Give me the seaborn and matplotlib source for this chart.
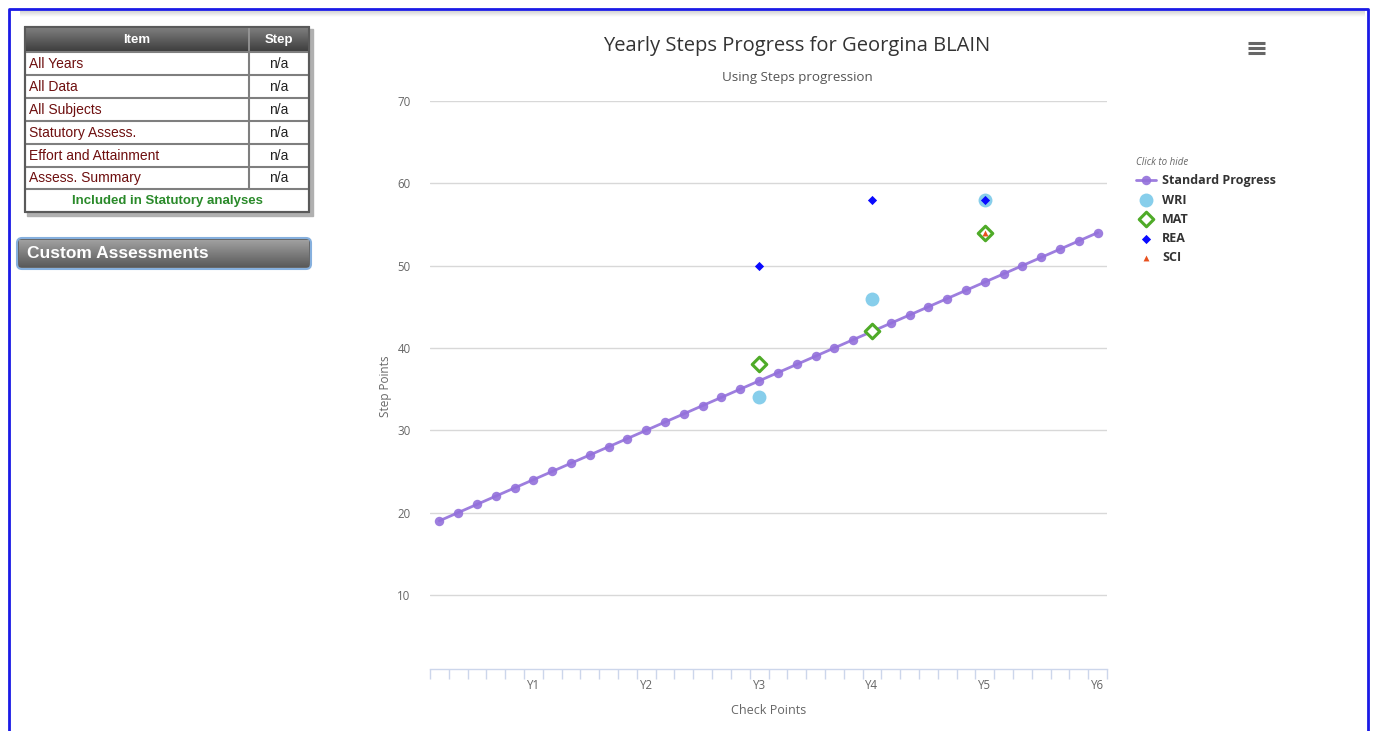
import matplotlib
matplotlib.use("Agg")
import matplotlib.pyplot as plt
from matplotlib.patches import Rectangle, FancyBboxPatch
import numpy as np
import pandas as pd
import seaborn as sns

# ── data ────────────────────────────────────────────────────────────────
checkpoints = list(range(1, 37))
standard = [19, 20, 21, 22, 23, 24, 25, 26, 27, 28, 29, 30,
            31, 32, 33, 34, 35, 36, 37, 38, 39, 40, 41, 42,
            43, 44, 45, 46, 47, 48, 49, 50, 51, 52, 53, 54]
year_labels = ["Y1", "Y2", "Y3", "Y4", "Y5", "Y6"]
year_pos = [6, 12, 18, 24, 30, 36]

wri_cp, wri_val = [18, 24, 30], [34, 46, 58]
mat_cp, mat_val = [18, 24, 30], [38, 42, 54]
rea_cp, rea_val = [18, 24, 30], [50, 58, 58]
sci_cp, sci_val = [30], [54]

y_ticks = [10, 20, 30, 40, 50, 60, 70]

table_items = ["All Years", "All Data", "All Subjects", "Statutory Assess.",
               "Effort and Attainment", "Assess. Summary"]
table_steps = ["n/a", "n/a", "n/a", "n/a", "n/a", "n/a"]

# ── figure ──────────────────────────────────────────────────────────────
W, H = 1373, 731
sns.set_theme(style="white")
plt.rcParams["font.family"] = ["Open Sans", "DejaVu Sans"]

fig = plt.figure(figsize=(W / 100, H / 100), dpi=100)
fig.patch.set_facecolor("white")

# page decorations in pixel coordinates
deco = fig.add_axes([0, 0, 1, 1], zorder=0)
deco.set_xlim(0, W)
deco.set_ylim(H, 0)
deco.axis("off")


def grad(ax, x0, y0, x1, y1, top, bottom, z=1):
    c0 = np.array(matplotlib.colors.to_rgb(top))
    c1 = np.array(matplotlib.colors.to_rgb(bottom))
    t = np.linspace(0, 1, 64)[:, None]
    img = (c0 * (1 - t) + c1 * t)[:, None, :]
    ax.imshow(img, extent=(x0, x1, y1, y0), aspect="auto", zorder=z,
              interpolation="bilinear")


# outer blue frame + top shadow
deco.plot([9, 9, 1368, 1368], [731, 9, 9, 731], color="#1a1ae6", lw=2, zorder=5)
grad(deco, 20, 11, 1365, 17, "#d4d4d4", "#ffffff", z=1)

# table
tx0, tx1, tsplit = 25, 309, 249
ty0, ty1 = 27, 212
row_h = 22.9
deco.add_patch(Rectangle((tx0 + 2, ty0 + 2), tx1 - tx0 + 2, ty1 - ty0 + 2,
                         color="#b0b0b0", zorder=1))
deco.add_patch(Rectangle((tx0, ty0), tx1 - tx0, ty1 - ty0, facecolor="white",
                         edgecolor="#5a5a5a", lw=1.5, zorder=2))
grad(deco, tx0, ty0, tx1, 52, "#808080", "#3c3c3c", z=3)
deco.plot([tsplit, tsplit], [ty0, 52], color="#9a9a9a", lw=1.2, zorder=4)
# cell grid
for i in range(7):
    y = 52 + i * row_h
    deco.plot([tx0, tx1], [y, y], color="#7f7f7f", lw=1.5, zorder=4)
deco.plot([tsplit, tsplit], [52, 52 + 6 * row_h], color="#7f7f7f", lw=1.5, zorder=4)
deco.plot([tx0, tx0, tx1, tx1, tx0], [ty0, ty1, ty1, ty0, ty0], color="#5a5a5a",
          lw=1.5, zorder=4)

deco.text((tx0 + tsplit) / 2, 40, "Item", color="white", fontsize=9.5,
          fontweight="bold", ha="center", va="center",
          family="Liberation Sans", zorder=5)
deco.text((tsplit + tx1) / 2, 40, "Step", color="white", fontsize=9.5,
          fontweight="bold", ha="center", va="center",
          family="Liberation Sans", zorder=5)
for i, (item, step) in enumerate(zip(table_items, table_steps)):
    yc = 52 + (i + 0.5) * row_h + 0.5
    deco.text(29, yc, item, color="#6e0f0f", fontsize=10,
              ha="left", va="center", family="Liberation Sans", zorder=5)
    deco.text((tsplit + tx1) / 2, yc, step, color="#222222",
              fontsize=10, ha="center", va="center", family="Liberation Sans",
              zorder=5)
deco.text((tx0 + tx1) / 2, 52 + 6.5 * row_h + 0.5, "Included in Statutory analyses",
          color="#2a8a2a", fontsize=9.5, fontweight="bold", ha="center",
          va="center", family="Liberation Sans", zorder=5)

# custom assessments button
deco.add_patch(FancyBboxPatch((17, 238), 294, 31, boxstyle="round,pad=0,rounding_size=5",
                              facecolor="#666666", edgecolor="#86b0de", lw=1.5,
                              zorder=2))
grad(deco, 19, 240, 309, 267, "#a0a0a0", "#5a5a5a", z=3)
deco.text(27, 254, "Custom Assessments", color="white", fontsize=12.5,
          fontweight="bold", ha="left", va="center", family="Liberation Sans",
          zorder=5)

# chart titles
deco.text(797, 46, "Yearly Steps Progress for Georgina BLAIN", fontsize=14.5,
          color="#333333", ha="center", va="center")
deco.text(797, 78, "Using Steps progression", fontsize=9.6, color="#555555",
          ha="center", va="center")
deco.text(385, 386, "Step Points", fontsize=8.5, color="#666666", rotation=90,
          ha="center", va="center")
deco.text(769, 710, "Check Points", fontsize=9, color="#666666",
          ha="center", va="center")

# hamburger menu
for yy in (43, 48, 53):
    deco.plot([1248, 1265], [yy, yy], color="#666666", lw=2.2, zorder=5,
              solid_capstyle="butt")

# ── chart ───────────────────────────────────────────────────────────────
ax_l, ax_r, ax_t, ax_b = 430, 1107, 101, 669
ax = fig.add_axes([ax_l / W, 1 - ax_b / H, (ax_r - ax_l) / W, (ax_b - ax_t) / H],
                  zorder=2)
ax.set_facecolor("none")

df_std = pd.DataFrame({"cp": checkpoints, "val": standard})
sns.lineplot(data=df_std, x="cp", y="val", ax=ax, color="#9370db", lw=2,
             marker="o", markersize=6.8, markeredgewidth=0, alpha=0.9,
             label="Standard Progress", zorder=2)
sns.scatterplot(x=wri_cp, y=wri_val, ax=ax, color="#87ceeb", s=100, linewidth=0,
                label="WRI", zorder=3)
sns.scatterplot(x=mat_cp, y=mat_val, ax=ax, marker="D", facecolor="white",
                edgecolor="#4fab28", linewidth=2.2, s=55, label="MAT", zorder=4)
sns.scatterplot(x=rea_cp, y=rea_val, ax=ax, marker="D", color="#0a0aff", s=22,
                linewidth=0, label="REA", zorder=5)
sns.scatterplot(x=sci_cp, y=sci_val, ax=ax, marker="^", color="#e8501e", s=18,
                linewidth=0, label="SCI", zorder=6)

handles, labels = ax.get_legend_handles_labels()
if ax.get_legend() is not None:
    ax.get_legend().remove()

ax.set_xlim(0.5, 36.5)
ax.set_ylim(1, 70)
ax.set_xlabel("")
ax.set_ylabel("")

ax.set_yticks(y_ticks)
ax.set_yticklabels([str(v) for v in y_ticks])
ax.yaxis.grid(True, color="#d8d8d8", lw=1)
ax.set_axisbelow(True)
ax.tick_params(axis="y", length=0, pad=14, labelsize=8.3, labelcolor="#666666")

ax.set_xticks(year_pos)
ax.set_xticklabels(year_labels)
ax.set_xticks([v + 0.5 for v in range(0, 37)], minor=True)
ax.tick_params(axis="x", which="major", bottom=True, length=0, pad=7.5,
               labelsize=8.3, labelcolor="#666666")
ax.tick_params(axis="x", which="minor", bottom=True, length=7.5, width=1,
               color="#ccd6eb", direction="out")

for side in ("top", "right", "left"):
    ax.spines[side].set_visible(False)
ax.spines["bottom"].set_color("#ccd6eb")
ax.spines["bottom"].set_linewidth(1)

leg = fig.legend(handles, labels, loc="upper left",
                 bbox_to_anchor=(1131 / W, 1 - 152 / H), frameon=False,
                 title="Click to hide", fontsize=9, handlelength=1.6,
                 handletextpad=0.5, labelspacing=0.5, borderaxespad=0)
leg.get_title().set_fontsize(7)
leg.get_title().set_fontstyle("italic")
leg.get_title().set_color("#666666")
leg._legend_box.align = "left"
for t in leg.get_texts():
    t.set_fontweight("bold")
    t.set_color("#333333")

fig.savefig("out.png", dpi=100)
